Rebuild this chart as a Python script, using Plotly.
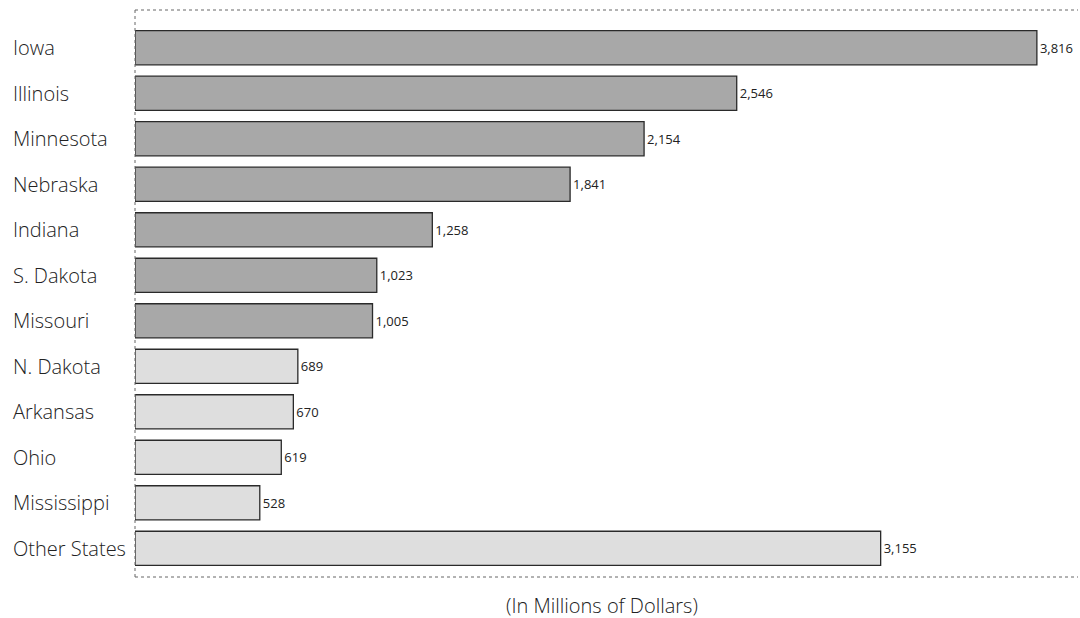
import plotly.graph_objects as go

states = ["Iowa", "Illinois", "Minnesota", "Nebraska", "Indiana", "S. Dakota",
          "Missouri", "N. Dakota", "Arkansas", "Ohio", "Mississippi", "Other States"]
values = [3816, 2546, 2154, 1841, 1258, 1023, 1005, 689, 670, 619, 528, 3155]
group = ["top", "top", "top", "top", "top", "top", "top",
         "rest", "rest", "rest", "rest", "rest"]

color_map = {"top": "#a8a8a8", "rest": "#dedede"}
colors = [color_map[g] for g in group]

fig = go.Figure()
fig.add_trace(go.Bar(
    y=states, x=values, orientation="h",
    marker=dict(color=colors, line=dict(color="#2a2a2a", width=1.3)),
    text=[f"{v:,}" for v in values], textposition="outside",
    textfont=dict(family="Open Sans", size=13, color="#222", weight=400),
    cliponaxis=False, width=0.75,
))

for s in states:
    fig.add_annotation(x=-0.1315, xref="paper", y=s, yref="y", text=s,
                       showarrow=False, xanchor="left", yanchor="middle",
                       font=dict(family="Open Sans", size=20, color="#222", weight=300))

dot = dict(color="#666", width=1, dash="dot")
fig.add_shape(type="line", xref="paper", yref="paper", x0=0, x1=1, y0=1, y1=1, line=dot)
fig.add_shape(type="line", xref="paper", yref="paper", x0=0, x1=1, y0=0, y1=0, line=dot)
fig.add_shape(type="line", xref="paper", yref="paper", x0=0, x1=0, y0=0, y1=1, line=dot)

fig.update_layout(
    width=1080, height=618,
    margin=dict(l=135, r=2, t=10, b=41),
    paper_bgcolor="white", plot_bgcolor="white",
    showlegend=False,
    xaxis=dict(range=[0, 3990], showgrid=False, zeroline=False, showticklabels=False,
               ticks="", showline=False),
    yaxis=dict(range=[11.63, -0.83], showgrid=False, zeroline=False, showticklabels=False,
               ticks="", showline=False),
)
fig.add_annotation(x=0.4955, xref="paper", y=-0.051, yref="paper", yanchor="middle",
                   text="(In Millions of Dollars)", showarrow=False,
                   font=dict(family="Open Sans", size=20, color="#222", weight=300))

fig.write_html("out.html")
